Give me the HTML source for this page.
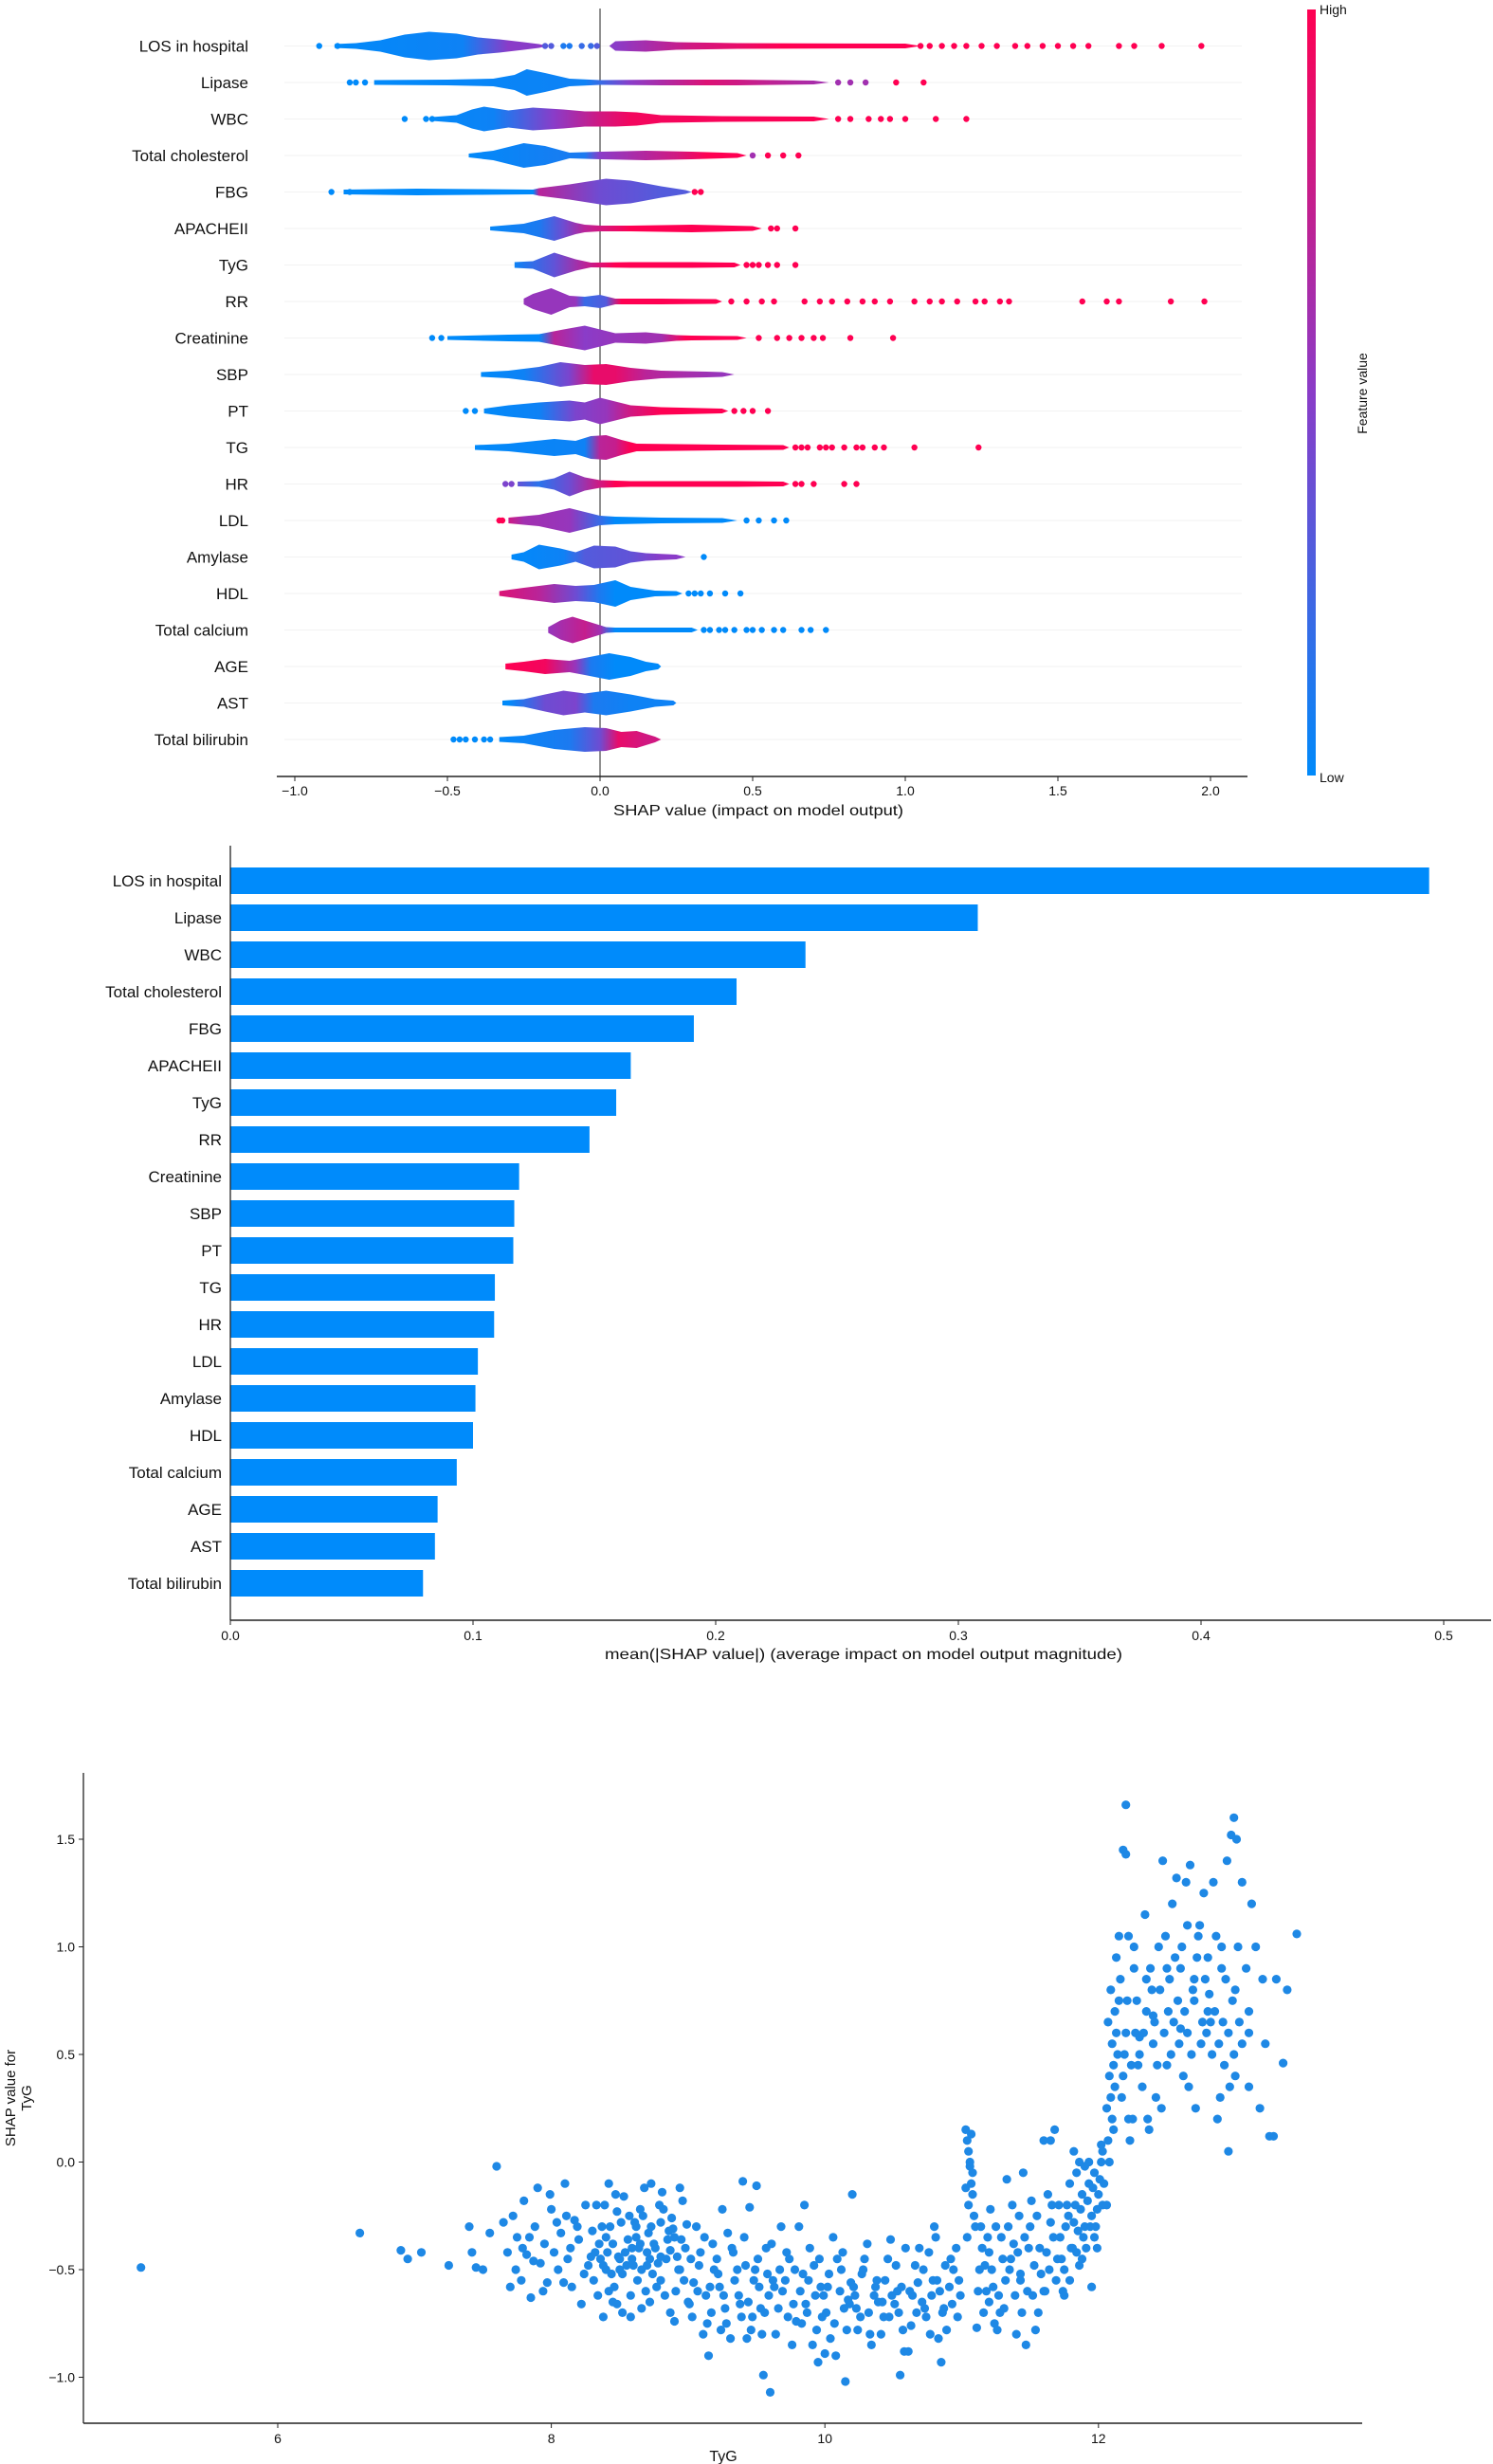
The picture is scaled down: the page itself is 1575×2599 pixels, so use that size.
<!DOCTYPE html>
<html><head><meta charset="utf-8"><title>SHAP figures</title>
<style>
html,body{margin:0;padding:0;background:#fff;}
svg{display:block;}
text{font-family:"Liberation Sans",sans-serif;fill:#111;}
</style></head>
<body>
<svg id="fig" xmlns="http://www.w3.org/2000/svg" width="1575" height="2599" viewBox="0 0 1575 2599">
<defs>
<linearGradient id="cbar" x1="0" y1="1" x2="0" y2="0">
<stop offset="0" stop-color="rgb(0,138,250)"/><stop offset="0.5" stop-color="rgb(138,60,200)"/><stop offset="1" stop-color="rgb(255,0,82)"/>
</linearGradient>
</defs>
<g id="swarm"></g>
<g id="bars"></g>
<g id="dep"></g>
</svg>
<script>
const featureNames=["LOS in hospital","Lipase","WBC","Total cholesterol","FBG","APACHEII","TyG","RR","Creatinine","SBP","PT","TG","HR","LDL","Amylase","HDL","Total calcium","AGE","AST","Total bilirubin"];
const meanAbsShap=[0.494,0.308,0.237,0.2086,0.191,0.165,0.159,0.148,0.119,0.117,0.1166,0.109,0.1087,0.102,0.101,0.100,0.0933,0.0854,0.0843,0.0794];
const swarmTicks=[-1.0,-0.5,0.0,0.5,1.0,1.5,2.0];
const barTicks=[0.0,0.1,0.2,0.3,0.4,0.5];
// beeswarm silhouettes: [shap value, half height px]
const bodyProfiles=[
 [[[-0.87,2],[-0.8,3],[-0.72,6],[-0.64,12],[-0.56,15],[-0.47,13],[-0.40,9],[-0.33,7],[-0.25,4],[-0.2,2],[-0.17,0]],[[0.03,0],[0.05,5],[0.15,6],[0.25,4],[0.45,3],[1.0,2.5],[1.05,0]]],
 [[[-0.74,2.5],[-0.5,3],[-0.35,4],[-0.28,8],[-0.24,14],[-0.18,10],[-0.1,4],[0,2.5],[0.2,3],[0.45,3],[0.7,2],[0.75,0]]],
 [[[-0.55,2],[-0.47,4],[-0.42,10],[-0.38,13],[-0.3,9],[-0.22,12],[-0.12,10],[-0.05,8],[0.05,8],[0.12,7],[0.2,4],[0.4,3],[0.7,2.5],[0.75,0]]],
 [[[-0.43,2],[-0.35,5],[-0.25,13],[-0.18,10],[-0.1,3],[0,4],[0.15,5],[0.3,4],[0.45,2.5],[0.48,0]]],
 [[[-0.84,2.5],[-0.6,3.5],[-0.4,3],[-0.22,2.5],[-0.2,4],[-0.1,8],[0.02,14],[0.1,12],[0.2,6],[0.28,2],[0.3,0]]],
 [[[-0.36,2],[-0.25,5],[-0.15,13],[-0.08,6],[-0.05,4],[0,3],[0.1,3],[0.3,4],[0.5,2.5],[0.53,0]]],
 [[[-0.28,3],[-0.22,4],[-0.15,13],[-0.08,6],[-0.03,2.5],[0.1,3],[0.3,3],[0.44,2.5],[0.46,0]]],
 [[[-0.25,3],[-0.22,8],[-0.16,14],[-0.1,6],[-0.05,5],[0,7],[0.05,3],[0.2,3],[0.38,2.5],[0.4,0]]],
 [[[-0.5,2],[-0.3,3.5],[-0.2,4],[-0.12,9],[-0.05,13],[0,9],[0.05,5],[0.15,6],[0.25,3],[0.3,2.5],[0.45,2],[0.48,0]]],
 [[[-0.39,2.5],[-0.3,4],[-0.2,8],[-0.13,13],[-0.05,10],[0.02,11],[0.1,7],[0.2,4],[0.35,3],[0.4,2.5],[0.44,0]]],
 [[[-0.38,2.5],[-0.3,6],[-0.2,9],[-0.1,11],[-0.05,9],[0,14],[0.05,10],[0.1,6],[0.2,4],[0.4,2.5],[0.42,0]]],
 [[[-0.41,2.5],[-0.3,4],[-0.15,9],[-0.08,7],[-0.03,12],[0.02,13],[0.07,8],[0.12,4],[0.4,3],[0.6,2.5],[0.62,0]]],
 [[[-0.27,2.5],[-0.2,3],[-0.15,6],[-0.1,13],[-0.05,7],[0,4],[0.1,3],[0.2,3],[0.45,3],[0.6,2.5],[0.62,0]]],
 [[[-0.3,3],[-0.2,6],[-0.1,13],[-0.05,9],[0,5],[0.05,4],[0.2,3],[0.4,2.5],[0.45,0]]],
 [[[-0.29,2.5],[-0.25,5],[-0.2,13],[-0.13,9],[-0.08,5],[-0.02,12],[0.05,11],[0.1,6],[0.15,4],[0.25,2.5],[0.28,0]]],
 [[[-0.33,2.5],[-0.25,6],[-0.15,10],[-0.08,8],[-0.02,9],[0.05,14],[0.1,7],[0.18,3],[0.25,2.5],[0.27,0]]],
 [[[-0.17,3],[-0.13,10],[-0.09,14],[-0.05,10],[-0.01,6],[0.02,3],[0.05,2.5],[0.3,2.5],[0.32,0]]],
 [[[-0.31,3],[-0.25,5],[-0.18,8],[-0.1,6],[-0.05,9],[0.03,14],[0.1,10],[0.15,5],[0.19,3],[0.2,0]]],
 [[[-0.32,2.5],[-0.25,4],[-0.18,9],[-0.12,13],[-0.05,10],[0.02,13],[0.1,9],[0.18,4],[0.24,2.5],[0.25,0]]],
 [[[-0.33,2.5],[-0.25,4],[-0.15,10],[-0.05,13],[0.02,12],[0.07,8],[0.12,9],[0.18,3],[0.2,0]]]
];
// colour stops along shap value: [shap value, feature value 0=low..1=high]
const colorStops=[
 [[-0.9,0],[-0.45,0.05],[-0.3,0.5],[0,0.5],[0.05,0.5],[0.3,0.8],[0.6,1]],
 [[-0.8,0],[-0.05,0.05],[0.1,0.5],[0.35,0.85],[0.75,0.6]],
 [[-0.6,0],[-0.35,0.05],[-0.15,0.5],[0,0.8],[0.1,0.95],[0.8,1]],
 [[-0.45,0],[-0.05,0.1],[0,0.5],[0.25,0.8],[0.35,1]],
 [[-0.9,0],[-0.22,0],[-0.2,0.7],[0,0.4],[0.2,0.3]],
 [[-0.4,0],[-0.2,0.1],[-0.12,0.4],[-0.05,0.7],[0.1,1]],
 [[-0.3,0],[-0.15,0.35],[-0.05,0.7],[0.05,1]],
 [[-0.25,0.55],[-0.08,0.55],[-0.05,0.2],[0.02,0.3],[0.07,1]],
 [[-0.5,0],[-0.2,0],[-0.15,0.7],[-0.05,0.5],[0.05,0.55],[0.2,0.6],[0.28,1]],
 [[-0.4,0],[-0.25,0.05],[-0.1,0.45],[-0.02,0.9],[0.05,0.9],[0.15,0.7],[0.4,0.55]],
 [[-0.4,0],[-0.2,0.05],[-0.08,0.45],[0.02,0.55],[0.1,0.8],[0.2,1]],
 [[-0.45,0],[-0.05,0.05],[0,0.7],[0.05,0.75],[0.1,1]],
 [[-0.3,0.45],[-0.2,0.15],[-0.1,0.4],[0,0.8],[0.05,1]],
 [[-0.33,0.9],[-0.25,0.6],[-0.1,0.55],[0,0.2],[0.05,0]],
 [[-0.3,0],[-0.12,0.05],[-0.05,0.3],[0.1,0.35],[0.2,0.5]],
 [[-0.33,0.85],[-0.2,0.7],[-0.08,0.4],[0,0.1],[0.05,0]],
 [[-0.17,0.55],[-0.05,0.75],[0,0.6],[0.05,0]],
 [[-0.31,1],[-0.18,0.95],[-0.08,0.55],[-0.03,0.1],[0.05,0]],
 [[-0.3,0],[-0.18,0.4],[-0.08,0.45],[-0.02,0.1],[0.1,0.05]],
 [[-0.35,0],[-0.1,0.1],[0,0.4],[0.06,0.9],[0.15,0.8]]
];
// outlier dots: shap values and feature colour values
const dotValues=[
 [-0.92,-0.86,-0.18,-0.16,-0.12,-0.1,-0.06,-0.03,-0.01,1.05,1.08,1.12,1.16,1.2,1.25,1.3,1.36,1.4,1.45,1.5,1.55,1.6,1.7,1.75,1.84,1.97],
 [-0.82,-0.8,-0.77,0.78,0.82,0.87,0.97,1.06],
 [-0.64,-0.57,-0.55,0.78,0.82,0.88,0.92,0.95,1.0,1.1,1.2],
 [0.5,0.55,0.6,0.65],
 [-0.88,-0.82,0.31,0.33],
 [0.56,0.58,0.64],
 [0.48,0.5,0.52,0.55,0.58,0.64],
 [0.43,0.48,0.53,0.57,0.67,0.72,0.76,0.81,0.86,0.9,0.95,1.03,1.08,1.12,1.17,1.23,1.26,1.31,1.34,1.58,1.66,1.7,1.87,1.98],
 [-0.55,-0.52,0.52,0.58,0.62,0.66,0.7,0.73,0.82,0.96],
 [],
 [-0.44,-0.41,0.44,0.47,0.5,0.55],
 [0.64,0.66,0.68,0.72,0.74,0.76,0.8,0.84,0.86,0.9,0.93,1.03,1.24],
 [-0.31,-0.29,0.64,0.66,0.7,0.8,0.84],
 [-0.33,-0.32,0.48,0.52,0.57,0.61],
 [0.34],
 [0.29,0.31,0.33,0.36,0.41,0.46],
 [0.34,0.36,0.39,0.41,0.44,0.48,0.5,0.53,0.57,0.6,0.66,0.69,0.74],
 [],
 [],
 [-0.48,-0.46,-0.44,-0.41,-0.38,-0.36]
];
const dotColors=[
 [0,0,0.3,0.3,0.1,0.1,0.2,0.2,0.3,1,1,1,1,1,1,1,1,1,1,1,1,1,1,1,1,1],
 [0,0,0,0.6,0.6,0.6,1,1],
 [0,0,0,1,1,1,1,1,1,1,1],
 [0.6,1,1,1],
 [0,0,1,1],
 [1,1,1],
 [1,1,1,1,1,1],
 [1,1,1,1,1,1,1,1,1,1,1,1,1,1,1,1,1,1,1,1,1,1,1,1],
 [0,0,1,1,1,1,1,1,1,1],
 [],
 [0,0,1,1,1,1],
 [1,1,1,1,1,1,1,1,1,1,1,1,1],
 [0.45,0.45,1,1,1,1,1],
 [1,1,0,0,0,0],
 [0],
 [0,0,0,0,0,0],
 [0,0,0,0,0,0,0,0,0,0,0,0,0],
 [],
 [],
 [0,0,0,0,0,0]
];
// dependence plot
const depXTicks=[6,8,10,12];
const depYTicks=[-1.0,-0.5,0.0,0.5,1.0,1.5];
const tygValues=[
5.0,6.6,6.9,6.95,7.05,7.25,7.4,7.42,7.45,7.55,7.6,7.5,
7.65,7.7,7.72,7.75,7.78,7.8,7.82,7.85,7.88,7.9,
7.92,7.95,7.97,8.0,8.02,8.05,8.07,8.1,8.12,8.15,
8.17,8.2,8.22,8.25,8.27,8.3,7.68,7.74,7.84,7.94,
8.04,8.14,8.24,7.87,7.99,8.09,8.19,8.29,7.79,8.11,
8.33,8.4,8.47,8.54,8.61,8.68,8.75,8.82,8.89,8.96,
8.36,8.43,8.5,8.57,8.64,8.71,8.78,8.85,8.92,8.99,
8.31,8.38,8.45,8.52,8.59,8.66,8.73,8.8,8.87,8.94,
8.35,8.42,8.49,8.56,8.63,8.7,8.77,8.84,8.91,8.98,
8.34,8.41,8.48,8.55,8.62,8.69,8.76,8.83,8.9,8.97,
8.37,8.44,8.51,8.58,8.65,8.72,8.79,8.86,8.93,9.0,
8.32,8.39,8.46,8.53,8.6,8.67,8.74,8.81,8.88,8.95,
8.38,8.45,8.52,8.59,8.66,8.73,8.8,8.87,8.94,8.4,
8.42,8.5,8.58,8.65,8.72,8.8,8.9,8.48,8.62,8.7,
9.02,9.22,9.42,9.62,9.82,10.02,10.22,10.42,10.62,10.82,
9.07,9.27,9.47,9.67,9.87,10.07,10.27,10.47,10.67,10.87,
9.12,9.32,9.52,9.72,9.92,10.12,10.32,10.52,10.72,10.92,
9.17,9.37,9.57,9.77,9.97,10.17,10.37,10.57,10.77,10.97,
9.04,9.24,9.44,9.64,9.84,10.04,10.24,10.44,10.64,10.84,
9.09,9.29,9.49,9.69,9.89,10.09,10.29,10.49,10.69,10.89,
9.14,9.34,9.54,9.74,9.94,10.14,10.34,10.54,10.74,10.94,
9.19,9.39,9.59,9.79,9.99,10.19,10.39,10.59,10.79,10.99,
9.01,9.21,9.41,9.61,9.81,10.01,10.21,10.41,10.61,10.81,
9.06,9.26,9.46,9.66,9.86,10.06,10.26,10.46,10.66,10.86,
9.11,9.31,9.51,9.71,9.91,10.11,10.31,10.51,10.71,10.91,
9.16,9.36,9.56,9.76,9.96,10.16,10.36,10.56,10.76,10.96,
9.03,9.23,9.43,9.63,9.83,10.03,10.23,10.43,10.63,10.83,
9.08,9.28,9.48,9.68,9.88,10.08,10.28,10.48,10.68,10.88,
9.13,9.33,9.53,9.73,9.93,10.13,10.33,10.53,10.73,10.93,
9.18,9.38,9.58,9.78,9.98,10.18,10.38,10.58,10.78,10.98,
9.15,9.4,9.5,9.55,9.6,9.95,10.0,10.15,10.55,10.85,9.45,9.85,10.2,10.8,9.25,
11.03,11.04,11.05,11.06,11.07,11.08,11.05,11.09,11.1,11.04,11.06,11.08,11.03,11.07,
11.15,11.22,11.29,11.36,11.43,11.5,11.57,11.64,11.12,11.2,
11.18,11.25,11.32,11.39,11.46,11.53,11.6,11.67,11.14,11.28,
11.13,11.2,11.27,11.34,11.41,11.48,11.55,11.62,11.69,11.24,
11.16,11.23,11.3,11.37,11.44,11.51,11.58,11.65,11.33,11.45,
11.11,11.19,11.26,11.35,11.42,11.47,11.56,11.63,11.4,11.52,
11.17,11.31,11.38,11.49,11.54,11.61,11.66,11.7,11.21,11.43,
11.72,11.75,11.78,11.8,11.83,11.85,11.88,11.9,11.93,11.95,
11.97,12.0,12.02,12.04,11.73,11.76,11.79,11.82,11.84,11.87,
11.89,11.92,11.94,11.96,11.99,12.01,12.03,11.74,11.77,11.81,
11.86,11.91,11.98,11.71,11.79,11.84,11.88,11.93,11.97,12.03,
11.6,11.65,11.68,11.95,11.75,11.82,11.9,11.99,12.02,11.86,
12.06,12.08,12.1,12.12,12.14,12.07,12.09,12.11,12.13,12.15,
12.06,12.08,12.1,12.12,12.16,12.18,12.2,12.22,12.09,12.13,
12.07,12.11,12.17,12.19,12.21,12.24,12.26,12.15,12.23,12.27,
12.3,12.35,12.4,12.45,12.5,12.55,12.6,12.65,12.7,12.75,
12.8,12.85,12.9,12.95,13.0,13.05,13.1,12.32,12.42,12.52,
12.62,12.72,12.82,12.92,13.02,12.28,12.38,12.48,12.58,12.68,
12.78,12.88,12.98,13.08,12.33,12.43,12.53,12.63,12.73,12.83,
12.93,13.03,12.36,12.46,12.56,12.66,12.76,12.86,12.96,12.26,
12.34,12.44,12.54,12.64,12.74,12.84,12.94,12.39,12.49,12.59,
12.69,12.79,12.89,12.99,12.41,12.51,12.61,12.71,12.81,12.91,
12.2,12.18,12.22,12.25,12.29,12.37,12.47,12.57,12.67,12.77,
12.97,12.99,13.01,13.05,13.12,13.15,13.2,13.22,13.25,13.3,
13.35,13.38,13.45,13.1,13.18,12.95,12.2,13.28,12.87,12.5,
12.3,12.4,12.6,12.7,12.8,12.9,13.0,13.1,12.35,12.65
];
const shapValues=[
-0.49,-0.33,-0.41,-0.45,-0.42,-0.48,-0.3,-0.42,-0.49,-0.33,-0.02,-0.5,
-0.28,-0.58,-0.25,-0.35,-0.55,-0.18,-0.43,-0.63,-0.3,-0.12,
-0.47,-0.38,-0.56,-0.22,-0.42,-0.5,-0.33,-0.1,-0.45,-0.58,
-0.27,-0.36,-0.66,-0.2,-0.48,-0.32,-0.42,-0.5,-0.35,-0.6,
-0.28,-0.4,-0.52,-0.46,-0.15,-0.56,-0.3,-0.44,-0.4,-0.25,
-0.2,-0.35,-0.15,-0.42,-0.28,-0.12,-0.38,-0.22,-0.31,-0.18,
-0.45,-0.3,-0.5,-0.25,-0.4,-0.33,-0.47,-0.36,-0.44,-0.29,
-0.55,-0.48,-0.38,-0.52,-0.45,-0.5,-0.3,-0.55,-0.41,-0.5,
-0.38,-0.6,-0.44,-0.36,-0.55,-0.42,-0.58,-0.45,-0.6,-0.4,
-0.62,-0.42,-0.66,-0.48,-0.35,-0.6,-0.4,-0.62,-0.35,-0.55,
-0.3,-0.52,-0.28,-0.62,-0.22,-0.45,-0.2,-0.32,-0.5,-0.65,
-0.42,-0.2,-0.58,-0.16,-0.48,-0.25,-0.52,-0.14,-0.26,-0.36,
-0.72,-0.65,-0.7,-0.4,-0.68,-0.1,-0.44,-0.7,-0.12,-0.5,
-0.1,-0.45,-0.72,-0.38,-0.65,-0.28,-0.74,-0.23,-0.3,-0.48,
-0.45,-0.52,-0.48,-0.55,-0.6,-0.58,-0.62,-0.65,-0.6,-0.55,
-0.6,-0.68,-0.72,-0.5,-0.7,-0.75,-0.52,-0.72,-0.7,-0.68,
-0.35,-0.4,-0.58,-0.42,-0.48,-0.5,-0.7,-0.48,-0.5,-0.45,
-0.7,-0.62,-0.4,-0.66,-0.58,-0.64,-0.58,-0.78,-0.8,-0.72,
-0.56,-0.78,-0.65,-0.8,-0.52,-0.82,-0.78,-0.55,-0.62,-0.6,
-0.42,-0.33,-0.5,-0.6,-0.4,-0.45,-0.45,-0.62,-0.4,-0.78,
-0.75,-0.55,-0.8,-0.45,-0.78,-0.68,-0.85,-0.7,-0.72,-0.5,
-0.5,-0.72,-0.62,-0.74,-0.62,-0.56,-0.65,-0.4,-0.55,-0.62,
-0.66,-0.45,-0.35,-0.38,-0.3,-0.7,-0.58,-0.8,-0.88,-0.35,
-0.3,-0.62,-0.78,-0.68,-0.66,-0.35,-0.72,-0.45,-0.48,-0.7,
-0.8,-0.82,-0.45,-0.55,-0.85,-0.6,-0.38,-0.66,-0.65,-0.58,
-0.58,-0.5,-0.7,-0.85,-0.45,-0.78,-0.62,-0.58,-0.42,-0.4,
-0.72,-0.58,-0.82,-0.58,-0.75,-0.52,-0.68,-0.72,-0.76,-0.82,
-0.48,-0.75,-0.55,-0.3,-0.55,-0.9,-0.5,-0.36,-0.56,-0.48,
-0.62,-0.42,-0.68,-0.72,-0.62,-0.42,-0.8,-0.6,-0.68,-0.66,
-0.38,-0.66,-0.52,-0.5,-0.72,-0.66,-0.55,-0.88,-0.62,-0.55,
-0.9,-0.09,-0.11,-0.99,-1.07,-0.93,-0.89,-1.02,-0.99,-0.93,-0.21,-0.2,-0.15,-0.3,-0.22,
0.15,0.1,0.05,-0.02,-0.1,-0.15,-0.2,-0.25,-0.3,-0.35,0.0,-0.05,-0.12,0.13,
-0.4,-0.5,-0.35,-0.45,-0.55,-0.3,-0.4,-0.5,-0.6,-0.65,
-0.6,-0.3,-0.55,-0.62,-0.35,-0.48,-0.6,-0.35,-0.3,-0.7,
-0.5,-0.42,-0.62,-0.3,-0.42,-0.6,-0.25,-0.42,-0.55,-0.75,
-0.7,-0.58,-0.45,-0.2,-0.7,-0.18,-0.52,-0.28,-0.08,-0.05,
-0.77,-0.35,-0.78,-0.5,-0.25,-0.85,-0.7,-0.15,-0.8,-0.62,
-0.48,-0.68,-0.38,-0.4,-0.78,-0.6,-0.2,-0.45,-0.22,-0.52,
-0.35,-0.5,-0.25,-0.4,-0.2,-0.32,-0.15,-0.3,-0.1,-0.25,
-0.05,-0.15,0.0,-0.1,-0.45,-0.3,-0.55,-0.28,-0.42,-0.22,
-0.35,-0.18,-0.3,-0.12,-0.22,-0.08,0.05,-0.6,-0.2,-0.4,
-0.48,-0.4,-0.3,-0.2,-0.1,-0.05,-0.45,0.0,-0.35,-0.2,
0.1,0.1,0.15,-0.58,-0.62,0.05,-0.02,-0.4,0.08,0.0,
-0.2,0.0,0.2,0.35,0.5,0.1,0.3,0.45,0.6,0.75,
0.25,0.4,0.55,0.7,0.85,0.4,0.6,0.2,0.8,0.95,
0.65,0.15,0.3,0.5,0.75,0.45,0.9,1.05,0.1,0.6,
0.5,0.7,0.55,0.8,0.45,0.65,0.9,0.6,0.75,0.55,
0.95,0.7,1.0,0.6,0.8,0.55,0.7,0.35,0.3,0.85,
0.4,0.95,0.65,0.45,1.0,0.75,0.9,0.6,0.75,0.5,
0.85,0.55,0.75,0.9,0.6,0.45,0.5,0.7,1.05,0.5,
0.85,0.65,0.2,0.25,0.95,0.35,0.65,1.05,0.35,1.0,
1.15,1.0,1.2,1.3,1.1,1.3,1.4,0.8,1.05,0.55,
0.8,0.6,0.3,0.5,0.65,0.7,1.0,0.25,0.78,0.65,
1.43,1.45,1.05,0.2,0.45,0.15,1.4,1.32,1.38,1.25,
1.52,1.6,1.5,1.3,1.2,1.0,0.85,0.55,0.12,0.85,
0.46,0.8,1.06,0.35,0.25,0.05,1.66,0.12,0.2,0.9,
0.58,0.68,0.62,0.85,0.7,0.9,0.4,0.6,0.85,1.1
];

const NS="http://www.w3.org/2000/svg";
function mk(parent,tag,attrs,txt){const e=document.createElementNS(NS,tag);for(const k in attrs)e.setAttribute(k,attrs[k]);if(txt!==undefined)e.textContent=txt;parent.appendChild(e);return e;}
function col(t){const a=[0,138,250],m=[138,60,200],b=[255,0,82];let c;if(t<=0.5){const u=t/0.5;c=a.map((v,i)=>Math.round(v+(m[i]-v)*u));}else{const u=(t-0.5)/0.5;c=m.map((v,i)=>Math.round(v+(b[i]-v)*u));}return "rgb("+c.join(",")+")";}
function fmt(v){const s=v.toFixed(1);return v<0?"\u2212"+s.slice(1):s;}

// ---------- Beeswarm ----------
const sw=document.getElementById('swarm');
const defs=document.querySelector('defs');
const sx=v=>633+v*322;
const rowY=i=>48.5+i*38.5;
featureNames.forEach((n,i)=>{
  const y=rowY(i);
  const gl=mk(sw,'line',{x1:300,x2:1310,y1:y,y2:y,stroke:'#f2f2f2','stroke-width':1});
  
  
});
const zl=mk(sw,'line',{x1:633,x2:633,y1:9,y2:819,stroke:'#555','stroke-width':1.3});


featureNames.forEach((n,i)=>{
  const y=rowY(i);
  const g=mk(sw,'g',{});
  
  
  const stops=colorStops[i];
  const v0=stops[0][0],v1=stops[stops.length-1][0];
  const gid='grad'+i;
  const lg=mk(defs,'linearGradient',{id:gid,gradientUnits:'userSpaceOnUse',x1:sx(v0),x2:sx(v1),y1:0,y2:0});
  
  
  stops.forEach(s=>mk(lg,'stop',{offset:(s[0]-v0)/(v1-v0),'stop-color':col(s[1])}));
  bodyProfiles[i].forEach(prof=>{
    const top=prof.map(p=>sx(p[0]).toFixed(1)+','+(y-p[1]).toFixed(1));
    const bot=prof.slice().reverse().map(p=>sx(p[0]).toFixed(1)+','+(y+p[1]).toFixed(1));
    const pg=mk(g,'polygon',{points:top.concat(bot).join(' '),fill:'url(#'+gid+')'});
    
    
  });
  dotValues[i].forEach((v,k)=>{
    const c=mk(g,'circle',{cx:sx(v),cy:y,r:3.2,fill:col(dotColors[i][k])});
    
    
  });
  const t=mk(sw,'text',{x:262,y:y+6,'text-anchor':'end','font-size':17},n);
  
  
});
const sax=mk(sw,'line',{x1:292,x2:1316,y1:819,y2:819,stroke:'#222','stroke-width':1.5});


swarmTicks.forEach(v=>{
  const tk=mk(sw,'line',{x1:sx(v),x2:sx(v),y1:819,y2:824,stroke:'#222','stroke-width':1});
  
  
  const tl=mk(sw,'text',{x:sx(v),y:839,'text-anchor':'middle','font-size':14},fmt(v));
  
  
});
const sxt=mk(sw,'text',{x:800,y:860,'text-anchor':'middle','font-size':16,textLength:306,lengthAdjust:'spacingAndGlyphs'},'SHAP value (impact on model output)');


const cb=mk(sw,'rect',{x:1379,y:10,width:9,height:808,fill:'url(#cbar)'});


const hi=mk(sw,'text',{x:1392,y:15,'font-size':14},'High');


const lo=mk(sw,'text',{x:1392,y:825,'font-size':14},'Low');


const fv=mk(sw,'text',{x:0,y:0,'text-anchor':'middle','font-size':14,transform:'translate(1442,415) rotate(-90)'},'Feature value');



// ---------- Bar chart ----------
const bc=document.getElementById('bars');
const bx=v=>243+v*2560;
const barY=i=>929+i*39;
meanAbsShap.forEach((v,i)=>{
  const r=mk(bc,'rect',{x:243,y:barY(i)-14,width:bx(v)-243,height:28,fill:'#008bfb'});
  
  
  const t=mk(bc,'text',{x:234,y:barY(i)+6,'text-anchor':'end','font-size':17},featureNames[i]);
  
  
});
const bl=mk(bc,'line',{x1:243,x2:243,y1:892,y2:1709,stroke:'#222','stroke-width':1.3});


const bb=mk(bc,'line',{x1:243,x2:1573,y1:1709,y2:1709,stroke:'#222','stroke-width':1.5});


barTicks.forEach(v=>{
  const tk=mk(bc,'line',{x1:bx(v),x2:bx(v),y1:1709,y2:1714,stroke:'#222','stroke-width':1});
  
  
  const tl=mk(bc,'text',{x:bx(v),y:1730,'text-anchor':'middle','font-size':14},v.toFixed(1));
  
  
});
const bxt=mk(bc,'text',{x:911,y:1750,'text-anchor':'middle','font-size':16,textLength:546,lengthAdjust:'spacingAndGlyphs'},'mean(|SHAP value|) (average impact on model output magnitude)');



// ---------- Dependence plot ----------
const dp=document.getElementById('dep');
const dx=v=>293+(v-6)*144.3;
const dy=v=>2280.5-v*227;
tygValues.forEach((v,i)=>{
  const c=mk(dp,'circle',{cx:dx(v).toFixed(1),cy:dy(shapValues[i]).toFixed(1),r:4.6,fill:'#1e88e5'});
  
  
});
const dl=mk(dp,'line',{x1:88,x2:88,y1:1870,y2:2556,stroke:'#222','stroke-width':1.3});


const db=mk(dp,'line',{x1:88,x2:1437,y1:2556,y2:2556,stroke:'#222','stroke-width':1.5});


depXTicks.forEach(v=>{
  const tk=mk(dp,'line',{x1:dx(v),x2:dx(v),y1:2556,y2:2561,stroke:'#222','stroke-width':1});
  
  
  const tl=mk(dp,'text',{x:dx(v),y:2577,'text-anchor':'middle','font-size':14},String(v));
  
  
});
depYTicks.forEach(v=>{
  const tk=mk(dp,'line',{x1:83,x2:88,y1:dy(v),y2:dy(v),stroke:'#222','stroke-width':1});
  
  
  const tl=mk(dp,'text',{x:79,y:dy(v)+5,'text-anchor':'end','font-size':14},fmt(v));
  
  
});
const dxt=mk(dp,'text',{x:763,y:2596,'text-anchor':'middle','font-size':16},'TyG');


const dyt=mk(dp,'text',{x:0,y:0,'text-anchor':'middle','font-size':15,transform:'translate(16,2213) rotate(-90)'},'SHAP value for');


const dyt2=mk(dp,'text',{x:0,y:0,'text-anchor':'middle','font-size':15,transform:'translate(33,2213) rotate(-90)'},'TyG');


</script>
</body></html>
